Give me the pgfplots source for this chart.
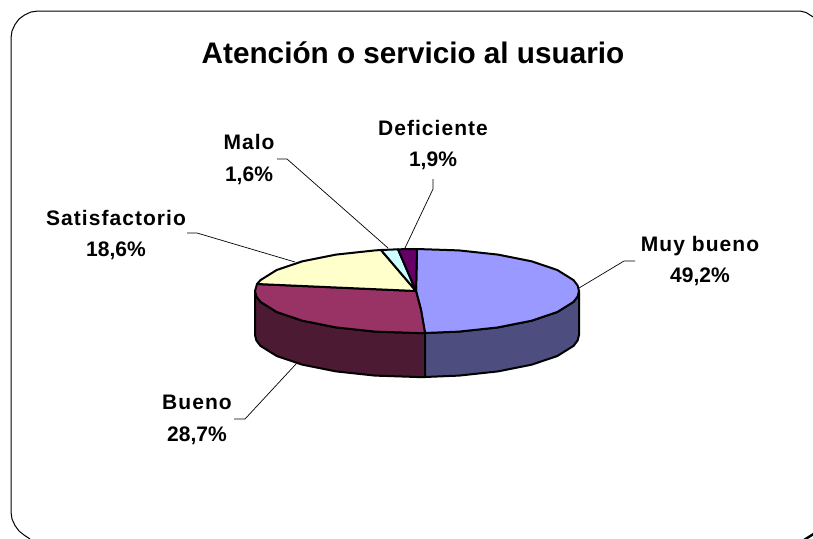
\documentclass[border=0pt]{standalone}
\usepackage{pgfplots}
\pgfplotsset{compat=1.18}
\usepackage{fontspec}
\setmainfont{Liberation Sans}
\newfontfamily\lbl[LetterSpace=5]{Liberation Sans}
\definecolor{cA}{RGB}{153,153,255}
\definecolor{cAd}{RGB}{77,77,127}
\definecolor{cB}{RGB}{153,51,102}
\definecolor{cBd}{RGB}{77,26,51}
\definecolor{cC}{RGB}{255,255,204}
\definecolor{cD}{RGB}{204,255,255}
\definecolor{cE}{RGB}{102,0,102}
\newcommand{\pielabel}[2]{{\lbl #1}\\[3.2pt]{\rmfamily #2}}
\begin{document}
\begin{tikzpicture}
\useasboundingbox (0,0) rectangle (813pt,538pt);
\begin{axis}[
  at={(0,0)},anchor=south west,
  width=813pt,height=538pt,scale only axis,
  xmin=0,xmax=813,ymin=0,ymax=538,y dir=reverse,
  axis lines=none,clip=true,
  every axis plot/.append style={line join=round},
]
% frame
\addplot[black,line width=1pt] coordinates {(30,539)(24,535)(19,531)(15,525.5)(12,519)(11,512)(11,38)(12,31)(15,24.5)(19,19)(24.5,15)(31,12)(38,11)(800,11)(806,12.5)(814,17.5)};
\addplot[black,line width=2.4pt] coordinates {(815,533)(804,540)};
% side faces
\addplot[fill=cBd,draw=black,line width=2pt] coordinates {
(255,291)(255,335)(256.4,340.5)(260.5,345.9)(276.7,356)(302.4,364.7)(336,371.4)(375,375.6)(417,377)(425,377)(425,333)(417,333)(375,331.6)(336,327.4)(302.4,320.7)(276.7,312)(260.5,301.9)(256.4,296.5)} -- cycle;
\addplot[fill=cAd,draw=black,line width=2pt] coordinates {
(425,333)(425,377)(459,375.6)(498,371.4)(531.6,364.7)(557.3,356)(573.5,345.9)(577.6,340.5)(579,335)(579,291)(577.6,296.5)(573.5,301.9)(557.3,312)(531.6,320.7)(498,327.4)(459,331.6)} -- cycle;
% top faces
\addplot[fill=cA,draw=black,line width=2pt] coordinates {
(417,249)(459,250.4)(498,254.6)(531.6,261.3)(557.3,270)(573.5,280.1)(577.6,285.5)(579,291)(577.6,296.5)(573.5,301.9)(557.3,312)(531.6,320.7)(498,327.4)(459,331.6)(425,333)(421,310)(416,291)} -- cycle;
\addplot[fill=cB,draw=black,line width=2pt] coordinates {
(425,333)(417,333)(375,331.6)(336,327.4)(302.4,320.7)(276.7,312)(260.5,301.9)(256.4,296.5)(255,291)(257,284)(416,291)(421,310)} -- cycle;
\addplot[fill=cC,draw=black,line width=2pt] coordinates {
(257,284)(260.5,280.1)(276.7,270)(302.4,261.3)(336,254.6)(375,250.4)(381,250)(416,291)} -- cycle;
\addplot[fill=cD,draw=black,line width=2pt] coordinates {(381,250)(398,249.3)(416,291)} -- cycle;
\addplot[fill=cE,draw=black,line width=2pt] coordinates {(398,249.3)(417,249)(416,291)} -- cycle;
% leader lines
\addplot[black,line width=0.7pt] coordinates {(579,288)(624,261)(635,261)};
\addplot[black,line width=0.7pt] coordinates {(296,364)(245,419)(234,419)};
\addplot[black,line width=0.7pt] coordinates {(295,262)(197,233)(187,233)};
\addplot[black,line width=0.7pt] coordinates {(388,248)(287,159)(277,159)};
\addplot[black,line width=0.7pt] coordinates {(405,248)(433,189)(433,179)};
% labels
\node[font=\bfseries,scale=2.97] at (axis cs:413,53) {Atención o servicio al usuario};
\node[font=\bfseries,scale=2.1,align=center] at (axis cs:700,261) {\pielabel{Muy bueno}{49,2\%}};
\node[font=\bfseries,scale=2.1,align=center] at (axis cs:197,419.5) {\pielabel{Bueno}{28,7\%}};
\node[font=\bfseries,scale=2.1,align=center] at (axis cs:116,235) {\pielabel{Satisfactorio}{18,6\%}};
\node[font=\bfseries,scale=2.1,align=center] at (axis cs:249,159.5) {\pielabel{Malo}{1,6\%}};
\node[font=\bfseries,scale=2.1,align=center] at (axis cs:433,145) {\pielabel{Deficiente}{1,9\%}};
\end{axis}
\end{tikzpicture}
\end{document}
